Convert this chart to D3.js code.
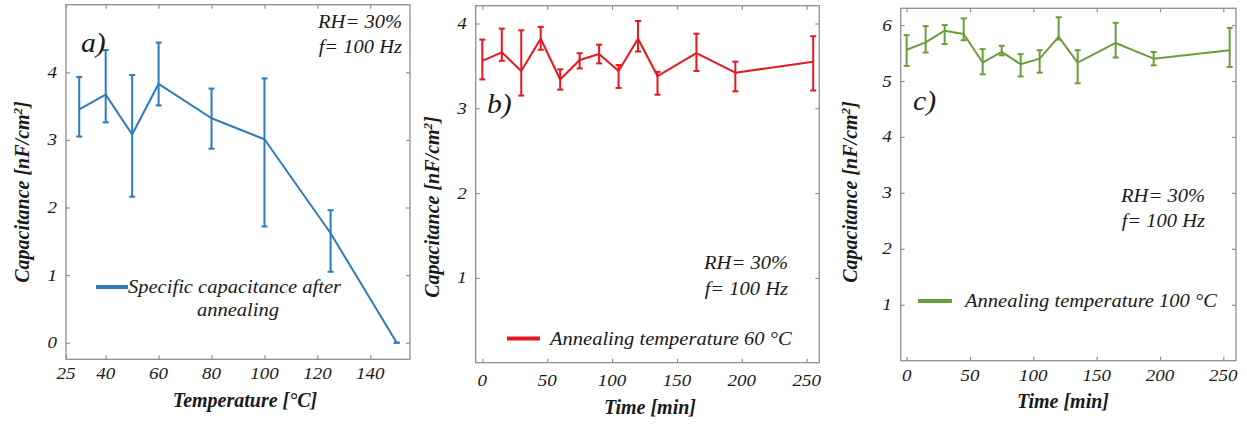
<!DOCTYPE html>
<html><head><meta charset="utf-8">
<script src="https://cdn.jsdelivr.net/npm/d3@7"></script>
<style>
html,body{margin:0;padding:0;background:#fff;}
svg{display:block;}
</style></head>
<body>
<svg id="chart" width="1247" height="427"></svg>
<script>
// ---------- DATA ----------
// Panel a) capacitance vs annealing temperature
const aTemp      = [30, 40, 50, 60, 80, 100, 125, 150];
const aCap       = [3.45, 3.67, 3.08, 3.83, 3.32, 3.01, 1.62, 0.0];
const aErrHigh   = [3.93, 4.33, 3.96, 4.44, 3.76, 3.91, 1.96, 0.0];
const aErrLow    = [3.05, 3.26, 2.16, 3.51, 2.87, 1.72, 1.05, 0.0];
const aXTicks    = [25, 40, 60, 80, 100, 120, 140];
const aYTicks    = [0, 1, 2, 3, 4];

// Panel b) annealing 60 °C, capacitance vs time
const bTime      = [0, 15, 30, 45, 60, 75, 90, 105, 120, 135, 165, 195, 255];
const bCap       = [3.56, 3.66, 3.44, 3.82, 3.34, 3.57, 3.64, 3.44, 3.82, 3.38, 3.65, 3.42, 3.55];
const bErrHigh   = [3.81, 3.94, 3.92, 3.96, 3.46, 3.65, 3.75, 3.51, 4.03, 3.43, 3.88, 3.55, 3.85];
const bErrLow    = [3.34, 3.56, 3.15, 3.69, 3.22, 3.47, 3.53, 3.24, 3.67, 3.16, 3.44, 3.20, 3.21];
const bXTicks    = [0, 50, 100, 150, 200, 250];
const bYTicks    = [1, 2, 3, 4];

// Panel c) annealing 100 °C, capacitance vs time
const cTime      = [0, 15, 30, 45, 60, 75, 90, 105, 120, 135, 165, 195, 255];
const cCap       = [5.56, 5.69, 5.90, 5.84, 5.33, 5.52, 5.30, 5.40, 5.79, 5.33, 5.68, 5.40, 5.55];
const cErrHigh   = [5.82, 5.98, 6.00, 6.12, 5.57, 5.63, 5.48, 5.55, 6.14, 5.55, 6.04, 5.52, 5.95];
const cErrLow    = [5.27, 5.51, 5.66, 5.73, 5.12, 5.46, 5.08, 5.15, 5.74, 4.96, 5.42, 5.28, 5.25];
const cXTicks    = [0, 50, 100, 150, 200, 250];
const cYTicks    = [1, 2, 3, 4, 5, 6];

// ---------- LAYOUT ----------
const FONT = '"Liberation Serif", "Tinos", "Times New Roman", serif';
const SX = 1.14; // horizontal stretch of the original raster text
const svg = d3.select("#chart");

const panels = [
  { x: aTemp, y: aCap, hi: aErrHigh, lo: aErrLow, xt: aXTicks, yt: aYTicks,
    xDom: [25, 155], yDom: [-0.245, 5.0], color: "#2b7cbc",
    box: { l: 66, r: 410, t: 4.7, b: 359.3 },
    xLabelDy: 20, xTitle: "Temperature [°C]", xTitlePos: [245, 407],
    yTitlePos: [29, 192],
    letter: "a)", letterPos: [81, 52],
    rh: { x: 402, y1: 28, y2: 53 },
    legend: { x1: 96, x2: 128, y: 287, tx: 128, ty: 293,
              lines: ["Specific capacitance after", "annealing"], l2x: 238, l2y: 316 } },
  { x: bTime, y: bCap, hi: bErrHigh, lo: bErrLow, xt: bXTicks, yt: bYTicks,
    xDom: [-5.1, 259.7], yDom: [0, 4.21], color: "#e8161e",
    box: { l: 475.7, r: 819.3, t: 5.7, b: 362.7 },
    xLabelDy: 23, xTitle: "Time [min]", xTitlePos: [650, 414],
    yTitlePos: [439, 207],
    letter: "b)", letterPos: [487, 113],
    rh: { x: 788, y1: 269, y2: 295 },
    legend: { x1: 507, x2: 540, y: 338.5, tx: 550, ty: 345,
              lines: ["Annealing temperature 60 °C"] } },
  { x: cTime, y: cCap, hi: cErrHigh, lo: cErrLow, xt: cXTicks, yt: cYTicks,
    xDom: [-4.7, 260], yDom: [0, 6.3], color: "#6b9e3a",
    box: { l: 900.7, r: 1236, t: 8.3, b: 360.7 },
    xLabelDy: 20, xTitle: "Time [min]", xTitlePos: [1063, 408],
    yTitlePos: [857, 192],
    letter: "c)", letterPos: [913, 110],
    rh: { x: 1205, y1: 202, y2: 227 },
    legend: { x1: 918, x2: 952, y: 301, tx: 965, ty: 307,
              lines: ["Annealing temperature 100 °C"] } }
];

function stext(g, x, y, str, size, anchor, weight, sx) {
  return g.append("text")
    .attr("transform", `translate(${x},${y}) scale(${sx || SX},1)`)
    .attr("text-anchor", anchor || "start")
    .style("font-family", FONT)
    .style("font-style", "italic")
    .style("font-size", size + "px")
    .style("font-weight", weight || "normal")
    .style("fill", "#1a1a1a")
    .text(str);
}

panels.forEach(p => {
  const B = p.box;
  const xs = d3.scaleLinear().domain(p.xDom).range([B.l, B.r]);
  const ys = d3.scaleLinear().domain(p.yDom).range([B.b, B.t]);
  const g = svg.append("g");

  // frame
  g.append("rect").attr("x", B.l).attr("y", B.t)
    .attr("width", B.r - B.l).attr("height", B.b - B.t)
    .attr("fill", "none").attr("stroke", "#8f8f8f").attr("stroke-width", 1.3);

  // axes (inward ticks on all four sides)
  const tickLen = 4;
  const ax = (gen, tx, ty) => {
    const a = g.append("g").attr("transform", `translate(${tx},${ty})`).call(gen);
    a.select(".domain").remove();
    a.selectAll("line").attr("stroke", "#8f8f8f").attr("stroke-width", 1.2);
    a.selectAll("text").remove();
    return a;
  };
  ax(d3.axisBottom(xs).tickValues(p.xt).tickSize(-tickLen), 0, B.b);
  ax(d3.axisTop(xs).tickValues(p.xt).tickSize(-tickLen), 0, B.t);
  ax(d3.axisLeft(ys).tickValues(p.yt).tickSize(-tickLen), B.l, 0);
  ax(d3.axisRight(ys).tickValues(p.yt).tickSize(-tickLen), B.r, 0);

  // tick labels
  p.xt.forEach(v => stext(g, xs(v), B.b + p.xLabelDy, String(v), 17, "middle", "normal", 1.12));
  p.yt.forEach(v => stext(g, B.l - 9, ys(v) + 5.5, String(v), 17, "end", "normal", 1.12));

  // axis titles
  stext(g, p.xTitlePos[0], p.xTitlePos[1], p.xTitle, 20, "middle", "bold", 1.0);
  const yt = g.append("text")
    .attr("transform", `translate(${p.yTitlePos[0]},${p.yTitlePos[1]}) rotate(-90)`)
    .attr("text-anchor", "middle")
    .style("font-family", FONT).style("font-style", "italic")
    .style("font-size", "20px").style("font-weight", "bold").style("fill", "#1a1a1a");
  yt.append("tspan").text("Capacitance [nF/cm");
  yt.append("tspan").attr("dy", -7).style("font-size", "13px").text("2");
  yt.append("tspan").attr("dy", 7).text("]");

  // data line
  const idx = d3.range(p.x.length);
  g.append("path").datum(idx)
    .attr("fill", "none").attr("stroke", p.color).attr("stroke-width", 2)
    .attr("stroke-linejoin", "round")
    .attr("d", d3.line().x(i => xs(p.x[i])).y(i => ys(p.y[i])));

  // error bars
  const cap = 3;
  const eb = g.append("g").attr("stroke", p.color).attr("stroke-width", 2);
  idx.forEach(i => {
    const x = xs(p.x[i]);
    eb.append("line").attr("x1", x).attr("x2", x).attr("y1", ys(p.lo[i])).attr("y2", ys(p.hi[i]));
    eb.append("line").attr("x1", x - cap).attr("x2", x + cap).attr("y1", ys(p.lo[i])).attr("y2", ys(p.lo[i]));
    eb.append("line").attr("x1", x - cap).attr("x2", x + cap).attr("y1", ys(p.hi[i])).attr("y2", ys(p.hi[i]));
  });

  // panel letter
  stext(g, p.letterPos[0], p.letterPos[1], p.letter, 27, "start", "normal", 1.1);

  // RH / f annotation
  stext(g, p.rh.x, p.rh.y1, "RH= 30%", 18, "end");
  stext(g, p.rh.x, p.rh.y2, "f= 100 Hz", 18, "end");

  // legend
  const L = p.legend;
  g.append("line").attr("x1", L.x1).attr("x2", L.x2).attr("y1", L.y).attr("y2", L.y)
    .attr("stroke", p.color).attr("stroke-width", 4);
  stext(g, L.tx, L.ty, L.lines[0], 18, "start");
  if (L.lines.length > 1) stext(g, L.l2x, L.l2y, L.lines[1], 18, "middle");
});
</script>
</body></html>
